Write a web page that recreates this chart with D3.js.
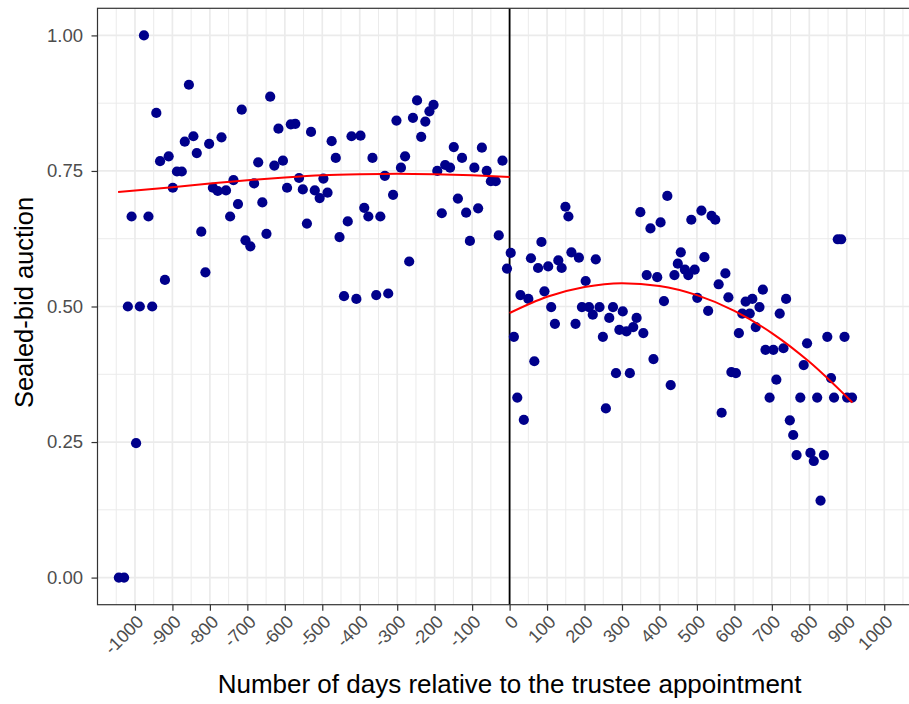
<!DOCTYPE html>
<html>
<head>
<meta charset="utf-8">
<script src="https://cdn.jsdelivr.net/npm/d3@7"></script>
<style>
  html, body { margin: 0; padding: 0; background: #ffffff; }
  svg { display: block; font-family: "Liberation Sans", Arial, sans-serif; }
</style>
</head>
<body>
<svg id="chart" width="909" height="704"></svg>
<script>
// ---- data ----
const beforeDays = [-1043,-1029,-1019,-1009,-997,-987,-976,-964,-954,-943,-933,-920,-910,-899,-888,-875,-867,-856,-844,-835,-823,-812,-802,-792,-779,-769,-757,-746,-737,-725,-715,-705,-692,-682,-671,-660,-649,-639,-628,-617,-605,-594,-584,-572,-562,-552,-541,-530,-520,-507,-497,-486,-475,-464,-454,-442,-432,-422,-409,-398,-388,-377,-366,-356,-345,-333,-324,-311,-302,-290,-279,-268,-258,-247,-236,-225,-214,-203,-193,-181,-172,-159,-149,-138,-127,-116,-106,-94,-84,-74,-61,-50,-37,-29,-19,-7];
const beforeValues = [0.000,0.000,0.500,0.666,0.248,0.500,1.000,0.666,0.500,0.857,0.768,0.549,0.777,0.719,0.749,0.749,0.804,0.909,0.814,0.783,0.638,0.563,0.800,0.719,0.713,0.812,0.714,0.666,0.733,0.689,0.863,0.622,0.611,0.727,0.766,0.692,0.634,0.887,0.760,0.828,0.769,0.719,0.836,0.837,0.737,0.716,0.653,0.822,0.714,0.700,0.736,0.710,0.805,0.774,0.628,0.519,0.657,0.814,0.514,0.815,0.682,0.666,0.774,0.521,0.666,0.741,0.524,0.706,0.843,0.756,0.777,0.583,0.848,0.880,0.813,0.841,0.860,0.872,0.750,0.672,0.761,0.756,0.794,0.699,0.774,0.673,0.621,0.756,0.681,0.793,0.750,0.731,0.731,0.631,0.769,0.570];

const afterDays = [3,11.5,20.5,29,38,50,57,66,76,85,93,103,111,121,130,139,149,157,165,176,185,193,203,212,222,230,240,249,257,266,276,284,293,302,312,321,330,339,349,357,366,376,384,394,403,412,421,430,440,449,457,468,477,485,494,501,512,520,530,539,549,558,566,576,584,592,604,612,621,630,641,648,657,667,676,683,694,704,712,721,731,738,748,757,766,776,785,794,803,812,821,830,839,848,858,866,876,885,894,901,914];
const afterValues = [0.599,0.444,0.332,0.521,0.291,0.514,0.589,0.399,0.571,0.619,0.528,0.574,0.499,0.468,0.585,0.571,0.684,0.666,0.600,0.468,0.590,0.499,0.547,0.499,0.485,0.587,0.499,0.444,0.312,0.479,0.499,0.377,0.457,0.491,0.454,0.377,0.462,0.479,0.674,0.451,0.558,0.644,0.403,0.554,0.655,0.510,0.704,0.355,0.558,0.579,0.600,0.568,0.558,0.660,0.568,0.516,0.677,0.591,0.492,0.667,0.660,0.541,0.304,0.561,0.517,0.379,0.377,0.451,0.487,0.509,0.487,0.514,0.462,0.499,0.531,0.420,0.332,0.420,0.365,0.487,0.423,0.514,0.290,0.263,0.226,0.332,0.392,0.432,0.230,0.215,0.332,0.142,0.226,0.444,0.368,0.332,0.624,0.624,0.444,0.332,0.332];

// fitted curves
const fitBeforeDays = [-1045,-900,-800,-700,-600,-500,-400,-300,-200,-100,0];
const fitBeforeValues = [0.711,0.720,0.727,0.733,0.738,0.742,0.744,0.745,0.744,0.742,0.739];
const fitAfterDays = [0,100,200,300,400,500,600,700,800,915];
const fitAfterValues = [0.488,0.518,0.536,0.543,0.538,0.521,0.492,0.451,0.398,0.323];

const xTicks = d3.range(-1000, 1001, 100);
const xTickLabels = ["-1000","-900","-800","-700","-600","-500","-400","-300","-200","-100","0","100","200","300","400","500","600","700","800","900","1000"];
const yTicks = [0, 0.25, 0.5, 0.75, 1.0];
const yTickLabels = ["0.00","0.25","0.50","0.75","1.00"];
const xMinor = d3.range(-1050, 1051, 100);
const yMinor = [0.125, 0.375, 0.625, 0.875];

// ---- layout ----
const svg = d3.select("#chart");
const pLeft = 97.5, pRight = 921.7, pTop = 8.3, pBottom = 604.7;
const x = d3.scaleLinear().domain([-1100, 1100]).range([pLeft, pRight]);
const y = d3.scaleLinear().domain([-0.05, 1.05]).range([pBottom, pTop]);

svg.append("rect").attr("x", 0).attr("y", 0).attr("width", 909).attr("height", 704).attr("fill", "#fff");

const grid = svg.append("g");
grid.selectAll(".xmin").data(xMinor).join("line")
  .attr("x1", d => x(d)).attr("x2", d => x(d)).attr("y1", pTop).attr("y2", pBottom)
  .attr("stroke", "#ebebeb").attr("stroke-width", 1.0);
grid.selectAll(".ymin").data(yMinor).join("line")
  .attr("y1", d => y(d)).attr("y2", d => y(d)).attr("x1", pLeft).attr("x2", pRight)
  .attr("stroke", "#ebebeb").attr("stroke-width", 1.0);
grid.selectAll(".xmaj").data(xTicks).join("line")
  .attr("x1", d => x(d)).attr("x2", d => x(d)).attr("y1", pTop).attr("y2", pBottom)
  .attr("stroke", "#ebebeb").attr("stroke-width", 1.7);
grid.selectAll(".ymaj").data(yTicks).join("line")
  .attr("y1", d => y(d)).attr("y2", d => y(d)).attr("x1", pLeft).attr("x2", pRight)
  .attr("stroke", "#ebebeb").attr("stroke-width", 1.7);

// vertical line at 0
svg.append("line").attr("x1", x(0)).attr("x2", x(0)).attr("y1", pTop).attr("y2", pBottom)
  .attr("stroke", "#000").attr("stroke-width", 1.8);

// points
const pts = beforeDays.map((d, i) => [d, beforeValues[i]])
  .concat(afterDays.map((d, i) => [d, afterValues[i]]));
svg.append("g").selectAll("circle").data(pts).join("circle")
  .attr("cx", d => x(d[0])).attr("cy", d => y(d[1])).attr("r", 5.1)
  .attr("fill", "#00008B");

// fitted lines
const line = d3.line().x(d => x(d[0])).y(d => y(d[1])).curve(d3.curveMonotoneX);
svg.append("path").datum(fitBeforeDays.map((d, i) => [d, fitBeforeValues[i]]))
  .attr("d", line).attr("fill", "none").attr("stroke", "#ff0000").attr("stroke-width", 2);
svg.append("path").datum(fitAfterDays.map((d, i) => [d, fitAfterValues[i]]))
  .attr("d", line).attr("fill", "none").attr("stroke", "#ff0000").attr("stroke-width", 2);

// panel border
svg.append("rect").attr("x", pLeft).attr("y", pTop).attr("width", pRight - pLeft).attr("height", pBottom - pTop)
  .attr("fill", "none").attr("stroke", "#333333").attr("stroke-width", 1.2);

// axes
const xAxis = svg.append("g").attr("transform", `translate(0,${pBottom})`)
  .call(d3.axisBottom(x).tickValues(xTicks).tickSize(6).tickSizeOuter(0)
    .tickFormat((d, i) => xTickLabels[i]));
xAxis.select(".domain").remove();
xAxis.selectAll(".tick line").attr("stroke", "#333333").attr("stroke-width", 1.2);
xAxis.selectAll(".tick text")
  .attr("fill", "#4d4d4d").attr("font-size", "18px")
  .attr("text-anchor", "end")
  .attr("x", 0).attr("y", 0).attr("dy", "0.72em")
  .attr("transform", "translate(0,9) rotate(-45)");

const yAxis = svg.append("g").attr("transform", `translate(${pLeft},0)`)
  .call(d3.axisLeft(y).tickValues(yTicks).tickSize(6).tickSizeOuter(0)
    .tickFormat((d, i) => yTickLabels[i]));
yAxis.select(".domain").remove();
yAxis.selectAll(".tick line").attr("stroke", "#333333").attr("stroke-width", 1.2);
yAxis.selectAll(".tick text").attr("fill", "#4d4d4d").attr("font-size", "18.5px").attr("x", -14.5);

// titles
svg.append("text").attr("x", (pLeft + pRight) / 2).attr("y", 693)
  .attr("text-anchor", "middle").attr("font-size", "26px").attr("fill", "#000")
  .text("Number of days relative to the trustee appointment");
svg.append("text").attr("transform", `translate(33,${(pTop + pBottom) / 2 - 4}) rotate(-90)`)
  .attr("text-anchor", "middle").attr("font-size", "25.5px").attr("fill", "#000")
  .text("Sealed-bid auction");
</script>
</body>
</html>
